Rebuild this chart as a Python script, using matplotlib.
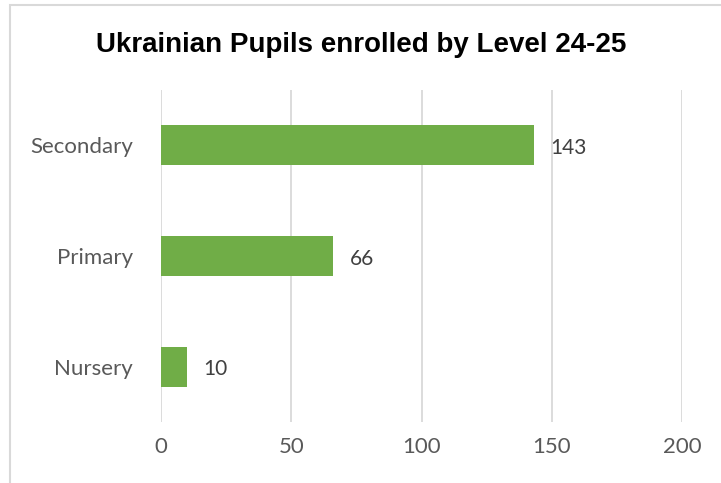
import matplotlib.pyplot as plt
from matplotlib.patches import Rectangle

levels = ["Nursery", "Primary", "Secondary"]
pupils = [10, 66, 143]
x_ticks = [0, 50, 100, 150, 200]
title = "Ukrainian Pupils enrolled by Level 24-25"

bar_color = "#70ad47"
grid_color = "#d9d9d9"
text_color = "#595959"

fig = plt.figure(figsize=(7.21, 4.83), dpi=100)
ax = fig.add_axes([161 / 721, 1 - 422 / 483, 521 / 721, 332 / 483])

# outer chart border, cropped on the right and bottom
fig.patches.append(Rectangle((10 / 721, -0.1), 1.2, 1 - 5 / 483 + 0.1,
                             transform=fig.transFigure, fill=False,
                             edgecolor=grid_color, linewidth=1.5))

ax.barh(range(len(levels)), pupils, height=0.36, color=bar_color, zorder=3)
for i, v in enumerate(pupils):
    ax.annotate(str(v), (v, i), xytext=(12, -2), textcoords="offset points",
                va="center", ha="left", fontsize=15, color="#404040",
                family="Lato")

ax.set_xlim(0, 200)
ax.set_ylim(-0.5, 2.5)
ax.set_xticks(x_ticks)
ax.set_yticks(range(len(levels)))
ax.set_yticklabels(levels)
ax.grid(axis="x", color=grid_color, linewidth=1.3, zorder=0)
ax.tick_params(length=0, labelsize=16, labelcolor=text_color)
ax.tick_params(axis="x", pad=11)
ax.tick_params(axis="y", pad=20)
for lbl in ax.get_xticklabels() + ax.get_yticklabels():
    lbl.set_family("Lato")
for s in ax.spines.values():
    s.set_visible(False)

fig.text(0.5 * (96 + 627) / 721, 1 - 45 / 483, title, ha="center", va="center",
         fontsize=20, fontweight="bold", family="Liberation Sans")

fig.savefig("out.png", dpi=100)
